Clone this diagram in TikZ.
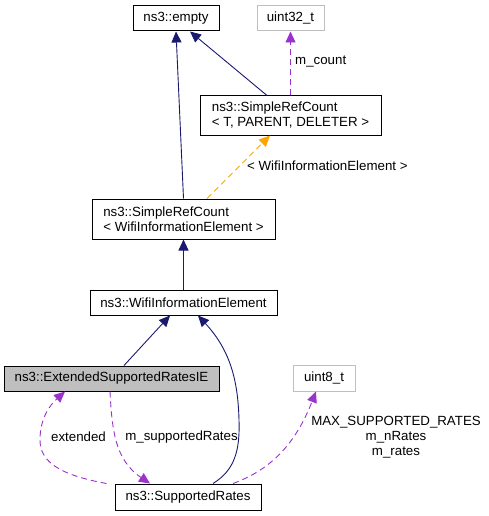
\documentclass[tikz,border=0pt]{standalone}
\usepackage{fontspec}
\setmainfont{Liberation Sans}
\usetikzlibrary{arrows.meta, calc, positioning}
\definecolor{dxnavy}{HTML}{191970}
\definecolor{dxorchid}{HTML}{9A32CD}
\definecolor{dxorange}{HTML}{FFA500}
\definecolor{dxgray}{HTML}{BFBFBF}

\tikzset{
    cls/.style={draw, rectangle, line width=1pt, inner sep=0pt, align=left, minimum height=25pt},
    ext/.style={cls, draw=dxgray},
    lbl/.style={inner sep=0pt, align=center},
    inh/.style={draw=dxnavy, line width=0.9pt, -{Triangle[length=11pt,width=10pt]}},
    use/.style={draw=dxorchid, line width=0.9pt, dash pattern=on 6pt off 4pt, -{Triangle[length=11pt,width=10pt]}},
    tpl/.style={draw=dxorange, line width=0.9pt, dash pattern=on 6pt off 4pt, -{Triangle[length=11pt,width=10pt]}}
}

\begin{document}
\begin{tikzpicture}[x=1pt, y=-1pt, font=\fontsize{13.3}{15}\selectfont]
        \useasboundingbox (0,0) rectangle (488,516);

        % classes
        \node[cls, minimum width=86pt] (Empty) at (176,18.5) {ns3::empty};
        \node[ext, minimum width=67pt] (U32) at (290.5,18.5) {uint32\_t};
        \node[cls, minimum width=181pt, minimum height=39pt] (RefT) at (290.5,115.5) {ns3::SimpleRefCount\\< T, PARENT, DELETER >};
        \node[cls, minimum width=183pt, minimum height=40pt] (RefW) at (183.5,219) {ns3::SimpleRefCount\\< WifiInformationElement >};
        \node[cls, minimum width=187pt] (Wie) at (183.5,302.5) {ns3::WifiInformationElement};
        \node[cls, fill=dxgray, minimum width=215pt] (Esr) at (111.5,378.5) {ns3::ExtendedSupportedRatesIE};
        \node[ext, minimum width=62pt, minimum height=26pt] (U8) at (324,378) {uint8\_t};
        \node[cls, minimum width=146pt, minimum height=26pt] (Sr) at (188,497) {ns3::SupportedRates};

        % labels
        \node[lbl, anchor=west] (Lcount) at (295,62) {m\_count};
        \node[lbl, anchor=west] (Ltpl) at (247,166) {< WifiInformationElement >};
        \node[lbl] (Lext) at (78.5,437) {extended};
        \node[lbl] (Lsup) at (181.5,437) {m\_supportedRates};
        \node[lbl] (Lrates) at (396,437) {MAX\_SUPPORTED\_RATES\\m\_nRates\\m\_rates};

        % inheritance
        \draw [inh] (RefW.north) -- (Empty.south);
        \draw [inh] ([xshift=-23.5pt]RefT.north) -- ([xshift=14pt]Empty.south);
        \draw [inh] (Wie.north) -- (RefW.south);
        \draw [inh] ([xshift=12.5pt]Esr.north) -- ([xshift=-13.5pt]Wie.south);
        \draw [inh] ([xshift=25pt]Sr.north) .. controls (235,470) and (240,450) .. (239,420)
            .. controls (238,380) and (230,350) .. ([xshift=14.5pt]Wie.south);

        % template and usage
        \draw [tpl] ([xshift=23.5pt]RefW.north) -- ([xshift=-20.5pt]RefT.south);
        \draw [use] (RefT.north) -- (U32.south);
        \draw [use] ([xshift=-8pt]Sr.north west) .. controls (60,475) and (40,462) .. (40,440)
            .. controls (40,418) and (50,405) .. ([xshift=-46.5pt]Esr.south);
        \draw [use] ([xshift=-1.5pt]Esr.south) .. controls (112,430) and (115,460) .. ([xshift=-38pt]Sr.north);
        \draw [use] ([xshift=45pt]Sr.north) .. controls (270,470) and (295,445) .. ([xshift=-8pt]U8.south);
\end{tikzpicture}
\end{document}
